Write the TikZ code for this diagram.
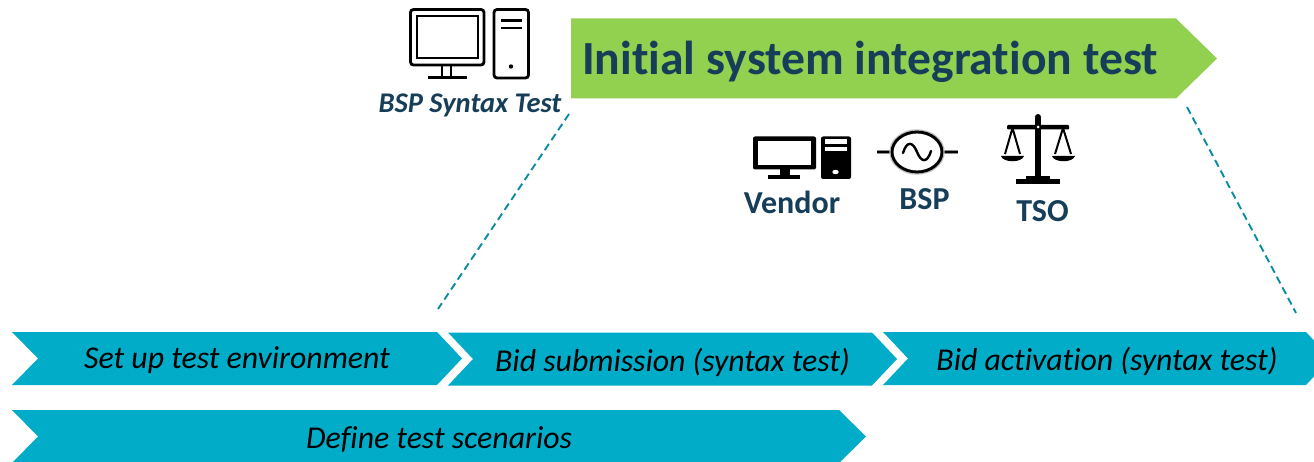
\documentclass[tikz,border=0pt]{standalone}
\usepackage{fontspec}
\setmainfont[Ligatures=NoCommon]{Carlito}
\definecolor{navy}{HTML}{163E58}
\definecolor{leaf}{HTML}{92D050}
\definecolor{cyanbar}{HTML}{00ACC8}
\definecolor{dashteal}{HTML}{0A8CA3}
\tikzset{
  x=1pt,y=-1pt,
  bar/.style={fill=cyanbar,draw=none},
  bartext/.style={font=\fontsize{31.8}{33}\selectfont\itshape,text=black,inner sep=0pt,anchor=center},
  actor/.style={font=\fontsize{32}{34}\selectfont\bfseries,text=navy,inner sep=0pt,anchor=center},
  guide/.style={draw=dashteal,line width=1.9pt,dash pattern=on 7.5pt off 4.5pt},
  thinicon/.style={draw=black,line width=2.8pt,fill=none},
  solidicon/.style={fill=black,draw=none},
  holeicon/.style={fill=white,draw=none}
}
\begin{document}
\begin{tikzpicture}
\useasboundingbox (0,0) rectangle (1314,462);
% banner
\fill[leaf] (571,18.5) -- (1176,18.5) -- (1217,58.5) -- (1176,98.5) -- (571,98.5) -- cycle;
\node[font=\fontsize{47.6}{50}\selectfont\bfseries,text=navy,inner sep=0pt] (title) at (870,62) {Initial system integration test};
% bars
\begin{scope}
\clip (0,0) rectangle (1314,462);
\fill[bar] (12,332) -- (437,332) -- (462,358.5) -- (437,385) -- (12,385) -- (38,358.5) -- cycle;
\fill[bar] (448,332.5) -- (872,332.5) -- (897,359) -- (872,385.5) -- (448,385.5) -- (473,359) -- cycle;
\fill[bar] (883,332) -- (1306,332) -- (1331,358.5) -- (1306,385) -- (883,385) -- (908,358.5) -- cycle;
\fill[bar] (12,410) -- (839,410) -- (866,436.5) -- (839,463) -- (12,463) -- (38,436.5) -- cycle;
\end{scope}
\node[bartext] (setup) at (237,360) {Set up test environment};
\node[bartext] (bid) at (672.5,362) {Bid submission (syntax test)};
\node[bartext] (act) at (1107,361) {Bid activation (syntax test)};
\node[bartext] (scen) at (439,439) {Define test scenarios};
% guides
\coordinate (g1a) at (569,114); \coordinate (g1b) at (438,309);
\coordinate (g2a) at (1187,107); \coordinate (g2b) at (1296,313);
\draw[guide] (g1a) -- (g1b);
\draw[guide] (g2a) -- (g2b);
% syntax-test icon
\draw[thinicon,rounded corners=3pt] (410.5,9.5) rectangle (484,65);
\draw[thinicon] (417,16) rectangle (478,58);
\draw[thinicon] (442,65) -- (442,77) (451,65) -- (451,77) (428,77.5) -- (467,77.5);
\draw[thinicon,rounded corners=3pt] (494,9.5) rectangle (528.5,78);
\draw[black,line width=3pt] (501,20.5) -- (522,20.5);
\draw[black,line width=2.2pt] (501,28) -- (522,28);
\fill[black] (511,66.5) circle (2.2);
\node[font=\fontsize{28.5}{30}\selectfont\bfseries\itshape,text=navy,inner sep=0pt] (syntax) at (470,105) {BSP Syntax Test};
% vendor icon
\fill[solidicon,rounded corners=2pt] (753,136.5) rectangle (816,169.5);
\fill[holeicon] (758,141) rectangle (811,165);
\fill[solidicon] (780,169) rectangle (790,175);
\fill[solidicon] (768,175) rectangle (800,179);
\fill[solidicon,rounded corners=2pt] (821,136.5) rectangle (851,179);
\fill[holeicon] (825,139.5) rectangle (847,144);
\fill[holeicon] (825,147) rectangle (847,151.5);
\fill[holeicon] (835.5,172) ellipse (3.2 and 2.2);
\node[actor] (vendor) at (792,202.5) {Vendor};
% generator icon
\draw[black!45,line width=3.8pt] (877,152) -- (891,152) (943,152) -- (958,152);
\draw[black,line width=1.8pt] (877,152) -- (891,152) (943,152) -- (958,152);
\draw[black!25,line width=4.4pt] (917,152) ellipse (25.5 and 20.5);
\draw[black,line width=2.8pt] (917,152) ellipse (25 and 20);
\draw[black,line width=2.4pt,line cap=round] (903,153) .. controls (907,140) and (913,142) .. (917,152) .. controls (921,162) and (927,164) .. (931,151);
\node[actor] (bsp) at (924.5,199) {BSP};
% scales icon
\fill[solidicon] (1035,118) rectangle (1041,180);
\fill[solidicon] (1038,117) circle (3);
\fill[solidicon] (1016,179) rectangle (1060,184);
\fill[solidicon] (1026,176.5) rectangle (1050,180);
\fill[solidicon,rounded corners=1pt] (1007,125) rectangle (1069,129.5);
\fill[holeicon] (1038,127) circle (1.5);
\draw[black,line width=2pt] (1012.5,128) -- (1005,154) (1012.5,128) -- (1020,154);
\draw[black,line width=2pt] (1063,128) -- (1055,154) (1063,128) -- (1071,154);
\fill[solidicon] (1001,156) -- (1024,156) .. controls (1022,163) and (1003,163) .. (1001,156) -- cycle;
\fill[solidicon] (1052,156) -- (1075,156) .. controls (1073,163) and (1054,163) .. (1052,156) -- cycle;
\node[actor] (tso) at (1042.5,211) {TSO};
\end{tikzpicture}
\end{document}
